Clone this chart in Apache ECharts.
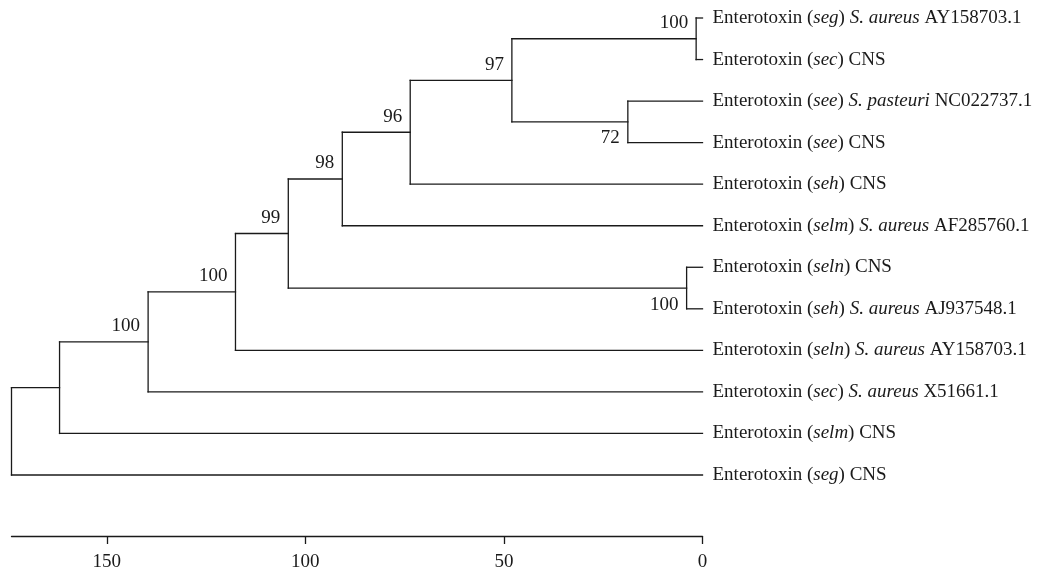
<!DOCTYPE html>
<html><head><meta charset="utf-8">
<script src="https://cdn.jsdelivr.net/npm/echarts@6/dist/echarts.min.js"></script>
<style>html,body{margin:0;padding:0;background:#fff}#c{width:1063px;height:573px}</style>
</head><body><div id="c"></div>
<script>
// ---- data: leaves, listed top to bottom ----
const leafGenes   = ['seg','sec','see','see','seh','selm','seln','seh','seln','sec','selm','seg'];
const leafSpecies = ['S. aureus','','S. pasteuri','','','S. aureus','','S. aureus','S. aureus','S. aureus','',''];
const leafIds     = ['AY158703.1','CNS','NC022737.1','CNS','CNS','AF285760.1','CNS','AJ937548.1','AY158703.1','X51661.1','CNS','CNS'];
// ---- data: internal nodes (children, height on the distance scale, bootstrap support) ----
const nodeIds      = ['A','B','C','D','E','G','F','H','I','J','R'];
const nodeChildren = [['L0','L1'],['L2','L3'],['A','B'],['C','L4'],['D','L5'],['L6','L7'],['E','G'],['F','L8'],['H','L9'],['I','L10'],['J','L11']];
const nodeHeights  = [1.6, 18.8, 48.0, 73.6, 90.7, 4.0, 104.3, 117.6, 139.6, 161.9, 174.0];
const nodeSupport  = [100, 72, 97, 96, 98, 100, 99, 100, 100, null, null];
// ---- data: scale ticks ----
const axisTicks = [0, 50, 100, 150];

// ---- layout (dendrogram) ----
const labelsBelow = ['B', 'G'];
const pos = {};
leafIds.forEach((_, i) => { pos['L' + i] = { x: 0, y: i }; });
nodeIds.forEach((id, k) => {
  const ch = nodeChildren[k].map(c => pos[c]);
  pos[id] = { x: nodeHeights[k], y: (ch[0].y + ch[1].y) / 2 };
});
const segments = [];
nodeIds.forEach((id, k) => {
  const p = pos[id];
  const ch = nodeChildren[k].map(c => pos[c]);
  segments.push([p.x, ch[0].y, p.x, ch[1].y]);
  ch.forEach(c => segments.push([p.x, c.y, c.x, c.y]));
});
const supportData = [];
const supportText = [];
const supportBelow = [];
nodeIds.forEach((id, k) => {
  if (nodeSupport[k] != null) {
    supportData.push([pos[id].x, pos[id].y]);
    supportText.push(String(nodeSupport[k]));
    supportBelow.push(labelsBelow.indexOf(id) >= 0);
  }
});
const leafData = leafIds.map((_, i) => [0, i]);
const leafText = leafIds.map((acc, i) =>
  'Enterotoxin ({i|' + leafGenes[i] + '}) ' + (leafSpecies[i] ? '{i|' + leafSpecies[i] + '} ' : '') + acc);

const INK = '#1a1a1a';
const FONT = '"Liberation Serif", "DejaVu Serif", serif';
const FS = 19;

const chart = echarts.init(document.getElementById('c'), null, { renderer: 'canvas' });
chart.setOption({
  animation: false,
  backgroundColor: '#fff',
  grid: { left: 11.5, right: 360.5, top: 18, bottom: 98 },
  xAxis: {
    type: 'value', inverse: true, min: 0, max: nodeHeights[nodeHeights.length - 1], interval: 50,
    position: 'bottom', offset: 61,
    axisLine: { show: true, onZero: false, lineStyle: { color: INK, width: 1.3 } },
    axisTick: { show: true, length: 8, customValues: axisTicks, lineStyle: { color: INK, width: 1.3 } },
    axisLabel: { customValues: axisTicks, color: INK, fontFamily: FONT, fontSize: FS, margin: 17 },
    splitLine: { show: false }
  },
  yAxis: { type: 'value', inverse: true, min: 0, max: leafIds.length - 1, show: false },
  series: [
    {
      type: 'custom', name: 'branches', clip: false, silent: true,
      data: segments,
      renderItem: function (params, api) {
        const a = api.coord([api.value(0), api.value(1)]);
        const b = api.coord([api.value(2), api.value(3)]);
        return { type: 'line', shape: { x1: a[0], y1: a[1], x2: b[0], y2: b[1] },
          style: { stroke: INK, lineWidth: 1.3, lineCap: 'square' } };
      }
    },
    {
      type: 'custom', name: 'support', clip: false, silent: true,
      data: supportData,
      renderItem: function (params, api) {
        const p = api.coord([api.value(0), api.value(1)]);
        const below = supportBelow[params.dataIndex];
        return { type: 'text', x: p[0] - 8, y: below ? p[1] + 7 : p[1] - 6,
          style: { text: supportText[params.dataIndex], fill: INK, font: FS + 'px ' + FONT,
            align: 'right', verticalAlign: below ? 'top' : 'bottom' } };
      }
    },
    {
      type: 'custom', name: 'leaves', clip: false, silent: true,
      data: leafData,
      renderItem: function (params, api) {
        const p = api.coord([api.value(0), api.value(1)]);
        return { type: 'text', x: p[0] + 10, y: p[1],
          style: { text: leafText[params.dataIndex], fill: INK, fontFamily: FONT, fontSize: FS,
            align: 'left', verticalAlign: 'middle',
            rich: { i: { fontStyle: 'italic', fontFamily: FONT, fontSize: FS, fill: INK } } } };
      }
    }
  ]
});
</script></body></html>
